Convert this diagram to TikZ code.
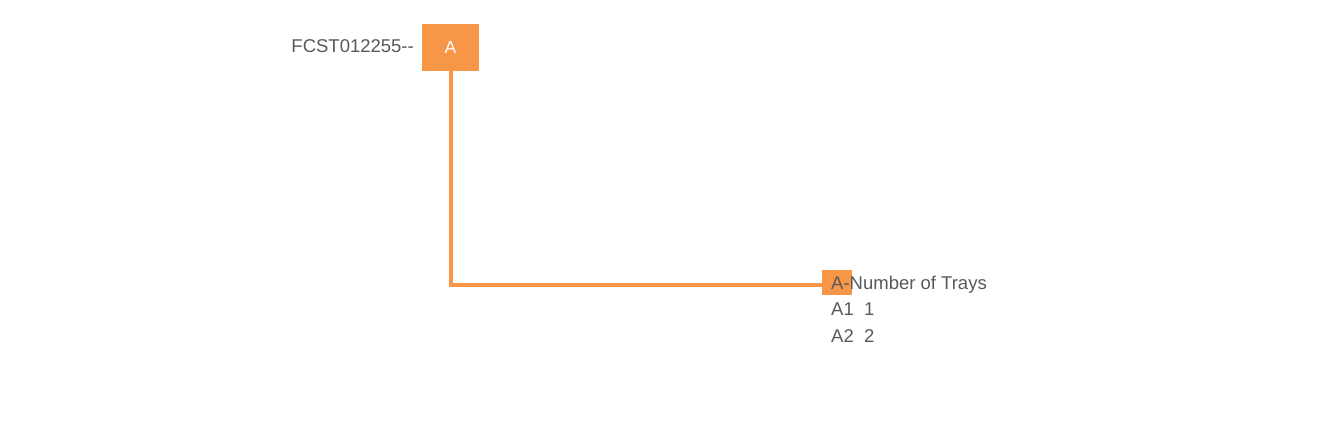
\documentclass[tikz,border=0pt]{standalone}
\usepackage{fontspec}
\setmainfont{Liberation Sans}
\definecolor{orng}{HTML}{F79646}
\definecolor{txtgray}{HTML}{595959}
\begin{document}
\begin{tikzpicture}[x=1pt,y=-1pt,
  obox/.style={draw=none,fill=orng,inner sep=0pt,text=white},
  lbl/.style={inner sep=0pt,text=txtgray,font=\fontsize{18.5}{22}\selectfont},
  conn/.style={draw=orng,line width=4pt}]
\useasboundingbox (0,0) rectangle (1326,446);
\node[obox,minimum width=57pt,minimum height=47pt,font=\fontsize{17.5}{21}\selectfont] (a) at (450.5,47.5) {A};
\node[lbl,anchor=base east] (fc) at (414,53) {FCST012255{-}{-}};
\node[obox,minimum width=30pt,minimum height=25pt] (t) at (837,282.5) {};
\draw[conn] (a.south) |- ([yshift=-2.5pt]t.west);
\node[lbl,anchor=base west] (h) at (831,290) {A{-}Number of Trays};
\node[lbl,anchor=base west] (r1) at (831,316) {A1\ \ 1};
\node[lbl,anchor=base west] (r2) at (831,343) {A2\ \ 2};
\end{tikzpicture}
\end{document}
